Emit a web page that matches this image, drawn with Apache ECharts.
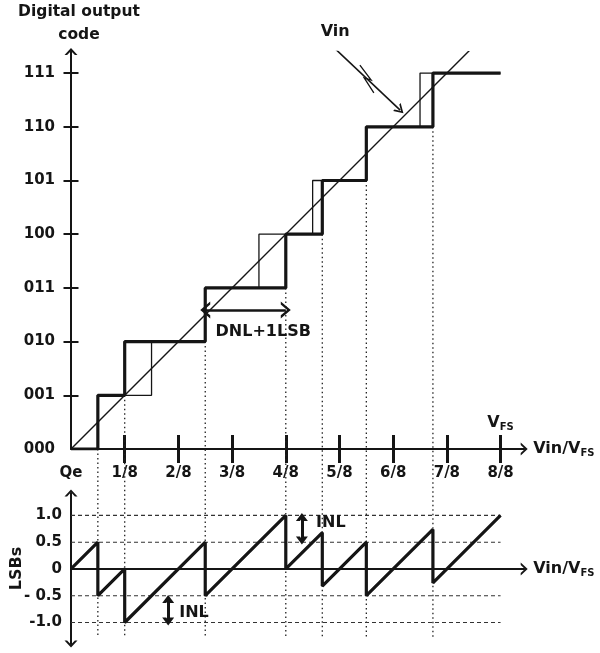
<!DOCTYPE html>
<html>
<head>
<meta charset="utf-8">
<title>ADC transfer curve and INL</title>
<script src="https://cdn.jsdelivr.net/npm/echarts@6/dist/echarts.min.js"></script>
<style>
  html, body { margin: 0; padding: 0; background: #fff; }
  #chart { width: 600px; height: 653px; }
</style>
</head>
<body>
<div id="chart"></div>
<script>
// values, x and y in LSB units (1 LSB = Vfs/8)

// codes on the vertical axis, ticks on the horizontal one
const codeValues = [0, 1, 2, 3, 4, 5, 6, 7]
const codeLabels = ['000', '001', '010', '011', '100', '101', '110', '111']
const xTickValues = [0, 1, 2, 3, 4, 5, 6, 7, 8]
const xTickLabels = ['Qe', '1/8', '2/8', '3/8', '4/8', '5/8', '6/8', '7/8', '8/8']

// where the codes switch: real converter (thick) and ideal one (thin)
const realEdges = [0.5, 1.0, 2.5, 4.0, 4.68, 5.5, 6.74]
const idealEdges = [0.5, 1.5, 2.5, 3.5, 4.5, 5.5, 6.5]
const stairEnd = 8
const dropBottom = -3.5 // dotted guides run down through the lower plot

// the Vin ramp
const vinRamp = [[0, 0], [7.5, 7.5]]

// INL sawtooth, in LSBs
const inlX = [0, 0.5, 0.5, 1.0, 1.0, 2.5, 2.5, 4.0, 4.0, 4.68, 4.68, 5.5, 5.5, 6.74, 6.74, 8]
const inlY = [0, 0.5, -0.5, 0, -1.0, 0.5, -0.5, 1.0, 0, 0.68, -0.32, 0.5, -0.5, 0.74, -0.26, 1.0]
const inlTickValues = [-1, -0.5, 0, 0.5, 1]
const inlTickLabels = ['-1.0', '- 0.5', '0', '0.5', '1.0']
const inlDashLevels = [1, 0.5, -0.5, -1]

// annotations
const vinArrow = [[4.88, 7.49], [6.13, 6.31]]
const vinBolt = [[5.38, 7.15], [5.59, 6.87], [5.46, 6.91], [5.64, 6.63]]
const dnlArrow = [[2.5, 2.59], [4.0, 2.59]]
const inlArrowLow = [[1.81, -0.56], [1.81, -0.98]]
const inlArrowHigh = [[4.3, 0.97], [4.3, 0.53]]

const ink = '#151515'
const font = 'DejaVu Sans'
const chevron = 'path://M0,7 L6.5,0 L13,7 L10.4,7 L6.5,2.8 L2.6,7 Z'
const openHead = 'path://M0,10 L5,0 L10,10 L8.2,10 L5,3.6 L1.8,10 Z'
const fatHead = 'path://M0,10 L5,0 L10,10 L6.6,10 L5,6.4 L3.4,10 Z'

function stairs(edges, lastX) {
  const pts = [[0, 0]]
  edges.forEach((x, i) => {
    pts.push([x, i], [x, i + 1])
  })
  pts.push([lastX, edges.length])
  return pts
}

function plainLine(data, width, extra) {
  return Object.assign({
    type: 'line',
    data: data,
    symbol: 'none',
    silent: true,
    lineStyle: { color: ink, width: width }
  }, extra)
}

const series = [
  plainLine(stairs(idealEdges, stairEnd), 1.3, { xAxisIndex: 0, yAxisIndex: 0 }),
  plainLine(vinRamp, 1.4, { xAxisIndex: 0, yAxisIndex: 0 }),
  plainLine(stairs(realEdges, stairEnd), 3.2, { xAxisIndex: 0, yAxisIndex: 0, z: 3 })
]

// dotted guides from each real transition down to the INL plot
realEdges.forEach((x, i) => {
  series.push(plainLine([[x, i], [x, dropBottom]], 1, {
    xAxisIndex: 0, yAxisIndex: 0, clip: false, z: 1,
    lineStyle: { color: '#222', width: 1.3, type: [1.5, 3] }
  }))
})

// dashed levels in the INL plot
inlDashLevels.forEach(y => {
  series.push(plainLine([[0, y], [stairEnd, y]], 1, {
    xAxisIndex: 2, yAxisIndex: 2, z: 1,
    lineStyle: { color: '#333', width: 1.2, type: [4, 3] }
  }))
})

series.push(plainLine(inlX.map((x, i) => [x, inlY[i]]), 3.2, { xAxisIndex: 2, yAxisIndex: 2, z: 3 }))

// arrows
series.push({
  type: 'lines', coordinateSystem: 'cartesian2d', xAxisIndex: 0, yAxisIndex: 0,
  silent: true, z: 4,
  lineStyle: { color: ink, width: 1.6, opacity: 1 },
  data: [
    { coords: vinArrow, symbol: ['none', openHead], symbolSize: [[11, 9], [11, 9]] },
    { coords: dnlArrow, symbol: [openHead, openHead], symbolSize: [[17, 10], [17, 10]], lineStyle: { width: 2.6 } }
  ]
})
series.push({
  type: 'lines', coordinateSystem: 'cartesian2d', xAxisIndex: 0, yAxisIndex: 0,
  polyline: true, silent: true, symbol: 'none',
  lineStyle: { color: ink, width: 1.3, opacity: 1 },
  data: [{ coords: vinBolt }]
})
series.push({
  type: 'lines', coordinateSystem: 'cartesian2d', xAxisIndex: 2, yAxisIndex: 2,
  silent: true, z: 4,
  symbol: [fatHead, fatHead], symbolSize: [[12, 8], [12, 8]],
  lineStyle: { color: ink, width: 3, opacity: 1 },
  data: [{ coords: inlArrowLow }, { coords: inlArrowHigh }]
})

// text notes
const noteLabel = {
  show: true, position: 'inside', formatter: '{b}',
  color: ink, fontFamily: font, fontWeight: 'bold', fontSize: 16
}
const vfsRich = {
  v: { fontFamily: font, fontWeight: 'bold', fontSize: 16, color: ink, lineHeight: 18 },
  s: { fontFamily: font, fontWeight: 'bold', fontSize: 10, color: ink, lineHeight: 13, verticalAlign: 'bottom' }
}
series.push({
  type: 'scatter', xAxisIndex: 0, yAxisIndex: 0, symbolSize: 0, clip: false, silent: true,
  itemStyle: { opacity: 1 },
  label: noteLabel,
  data: [
    { name: 'Vin', value: [4.92, 7.77] },
    { name: 'DNL+1LSB', value: [3.58, 2.18] },
    { name: 'VFS', value: [8, 0.48], label: { formatter: '{v|V}{s|FS}', rich: vfsRich } }
  ]
})
series.push({
  type: 'scatter', xAxisIndex: 2, yAxisIndex: 2, symbolSize: 0, clip: false, silent: true,
  itemStyle: { opacity: 1 },
  label: noteLabel,
  data: [
    { name: 'INL', value: [2.29, -0.82] },
    { name: 'INL', value: [4.84, 0.86] }
  ]
})

const labelStyle = { color: ink, fontFamily: font, fontWeight: 'bold', fontSize: 15 }
const axisLineStyle = { color: ink, width: 2 }
const ticks1to8 = xTickValues.slice(1)
const ticks1to7 = codeValues.slice(1)
const vinName = '{v|Vin/V}{s|FS}'

const option = {
  animation: false,
  backgroundColor: '#fff',
  grid: [
    { left: 71, top: 51.6, width: 453.2, height: 397.4, outerBoundsMode: 'none' },
    { left: 71, top: 493, width: 453.2, height: 150.9, outerBoundsMode: 'none' }
  ],
  xAxis: [
    {
      gridIndex: 0, type: 'value', min: 0, max: 8.44,
      axisLine: { lineStyle: axisLineStyle, symbol: ['none', chevron], symbolSize: [13, 7] },
      axisTick: { inside: true, length: 14, customValues: ticks1to8, lineStyle: { color: ink, width: 3 } },
      axisLabel: Object.assign({
        customValues: xTickValues, margin: 17,
        formatter: v => xTickLabels[xTickValues.indexOf(v)]
      }, labelStyle),
      splitLine: { show: false },
      name: vinName, nameLocation: 'end', nameGap: 9,
      nameTextStyle: { rich: vfsRich }
    },
    {
      gridIndex: 0, type: 'value', min: 0, max: 8.44, position: 'bottom',
      axisLine: { show: false },
      axisTick: { inside: false, length: 14, customValues: ticks1to8, lineStyle: { color: ink, width: 3 } },
      axisLabel: { show: false },
      splitLine: { show: false }
    },
    {
      gridIndex: 1, type: 'value', min: 0, max: 8.44,
      axisLine: { lineStyle: axisLineStyle, symbol: ['none', chevron], symbolSize: [13, 7] },
      axisTick: { show: false },
      axisLabel: { show: false },
      splitLine: { show: false },
      name: vinName, nameLocation: 'end', nameGap: 9,
      nameTextStyle: { rich: vfsRich }
    }
  ],
  yAxis: [
    {
      gridIndex: 0, type: 'value', min: 0, max: 7.4,
      axisLine: { lineStyle: axisLineStyle, symbol: ['none', chevron], symbolSize: [13, 7] },
      axisTick: { inside: true, length: 7.5, customValues: ticks1to7, lineStyle: { color: ink, width: 2 } },
      axisLabel: Object.assign({
        customValues: codeValues, margin: 16,
        formatter: v => codeLabels[codeValues.indexOf(v)]
      }, labelStyle),
      splitLine: { show: false },
      name: 'Digital output\ncode', nameLocation: 'end', nameGap: 5,
      nameTextStyle: {
        color: ink, fontFamily: font, fontWeight: 'bold', fontSize: 15.5,
        lineHeight: 23, align: 'center', padding: [0, 0, 0, 16]
      }
    },
    {
      gridIndex: 0, type: 'value', min: 0, max: 7.4, position: 'left',
      axisLine: { show: false },
      axisTick: { inside: false, length: 7.5, customValues: ticks1to7, lineStyle: { color: ink, width: 2 } },
      axisLabel: { show: false },
      splitLine: { show: false }
    },
    {
      gridIndex: 1, type: 'value', min: -1.4, max: 1.42,
      axisLine: { lineStyle: axisLineStyle, symbol: [chevron, chevron], symbolSize: [13, 7] },
      axisTick: { show: false },
      axisLabel: Object.assign({
        customValues: inlTickValues, margin: 9,
        formatter: v => inlTickLabels[inlTickValues.indexOf(v)]
      }, labelStyle),
      splitLine: { show: false },
      name: 'LSBs', nameLocation: 'middle', nameRotate: 90, nameGap: 46,
      nameMoveOverlap: false,
      nameTextStyle: { color: ink, fontFamily: font, fontWeight: 'bold', fontSize: 16 }
    }
  ],
  series: series
}

const chart = echarts.init(document.getElementById('chart'))
chart.setOption(option)
</script>
</body>
</html>
